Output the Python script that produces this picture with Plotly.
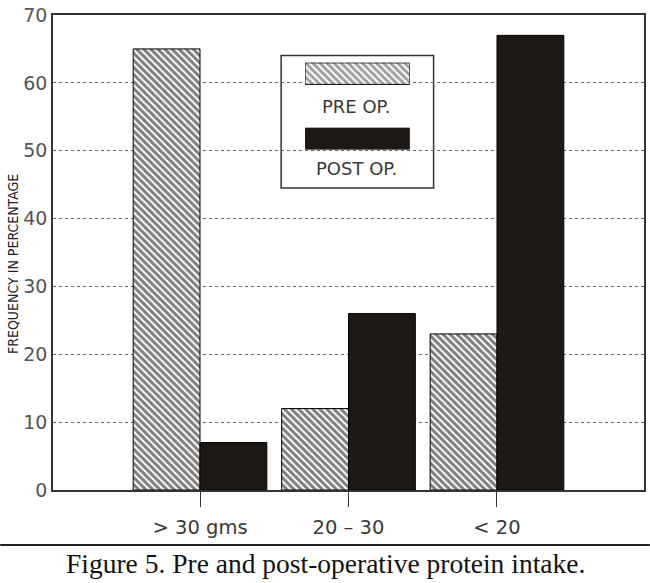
import plotly.graph_objects as go

# protein intake groups and frequency (%)
groups = ["> 30 gms", "20 – 30", "< 20"]
pre_op = [65, 12, 23]
post_op = [7, 26, 67]

# legend swatches (drawn as a little inset bar chart)
legend_rows = ["POST OP.", "PRE OP."]
legend_len = [1, 1]

DARK = "#1e1814"
INK = "#3a3a3a"
HATCH = dict(shape="\\", fgcolor="black", bgcolor="white", size=5, solidity=0.6)

fig = go.Figure()

fig.add_trace(go.Bar(
    x=groups, y=pre_op, name="PRE OP.", showlegend=False,
    marker=dict(color="white", line=dict(color="black", width=1), pattern=HATCH),
))
fig.add_trace(go.Bar(
    x=groups, y=post_op, name="POST OP.", showlegend=False,
    marker=dict(color=DARK, line=dict(color="black", width=1)),
))

# inset swatches for the boxed legend
fig.add_trace(go.Bar(
    y=legend_rows, x=legend_len, orientation="h", width=0.33,
    xaxis="x2", yaxis="y2", showlegend=False, hoverinfo="skip",
    marker=dict(color=[DARK, "white"], line=dict(color="black", width=1),
                pattern=dict(shape=["", "\\"], fgcolor="black", bgcolor="white",
                             size=5, solidity=0.6)),
))

fig.update_layout(
    width=650, height=583,
    margin=dict(l=53, r=4, t=9, b=93),
    paper_bgcolor="white", plot_bgcolor="white",
    barmode="group", bargap=0.1, bargroupgap=0,
    font=dict(family="DejaVu Sans", color=INK),
    xaxis=dict(
        type="category", range=[-0.99, 2.99],
        showline=True, linecolor="#333", linewidth=1.5, mirror=True,
        ticks="outside", ticklen=15, tickcolor="#333", tickwidth=1,
        tickfont=dict(size=19.5, color=INK), ticklabelstandoff=4,
        showgrid=False, zeroline=False,
    ),
    yaxis=dict(
        range=[0, 70], dtick=10,
        showline=True, linecolor="#333", linewidth=1.5, mirror=True,
        ticks="", tickfont=dict(size=19, color="#555"), ticklabelstandoff=0,
        ticklabeloverflow="allow",
        showgrid=True, gridcolor="#666", griddash="dot", gridwidth=1.2,
        zeroline=False,
    ),
    xaxis2=dict(domain=[0.4266, 0.6037], range=[0, 1], anchor="y2",
                visible=False, fixedrange=True),
    yaxis2=dict(domain=[0.717, 0.900], range=[-0.16, 1.17], anchor="x2",
                type="category", visible=False, fixedrange=True),
    shapes=[
        # legend frame
        dict(type="rect", xref="paper", yref="paper",
             x0=0.386, x1=0.644, y0=0.636, y1=0.915,
             line=dict(color="#333", width=1.5), fillcolor="white", layer="below"),
        # rule above caption
        dict(type="line", xref="paper", yref="paper",
             x0=-0.0894, x1=1.01, y0=-0.116, y1=-0.116,
             line=dict(color="#222", width=2)),
    ],
    annotations=[
        dict(text="PRE OP.", xref="paper", yref="paper", x=0.513, y=0.808,
             xanchor="center", yanchor="middle", showarrow=False,
             font=dict(size=18, color=INK)),
        dict(text="POST OP.", xref="paper", yref="paper", x=0.513, y=0.676,
             xanchor="center", yanchor="middle", showarrow=False,
             font=dict(size=18, color=INK)),
        dict(text="FREQUENCY IN PERCENTAGE", xref="paper", yref="paper",
             x=-0.0675, y=0.476, xanchor="center", yanchor="middle",
             textangle=-90, showarrow=False,
             font=dict(family="DejaVu Sans Condensed", size=14, color="#222")),
        dict(text="Figure 5. Pre and post-operative protein intake.",
             xref="paper", yref="paper", x=0.461, y=-0.155,
             xanchor="center", yanchor="middle", showarrow=False,
             font=dict(family="Liberation Serif", size=27.5, color="#111")),
    ],
)

# the page gets no body margin so the figure sits at the window's corner
fig.write_html("out.html", config={"displayModeBar": False},
               post_script="document.body.style.margin='0';")
